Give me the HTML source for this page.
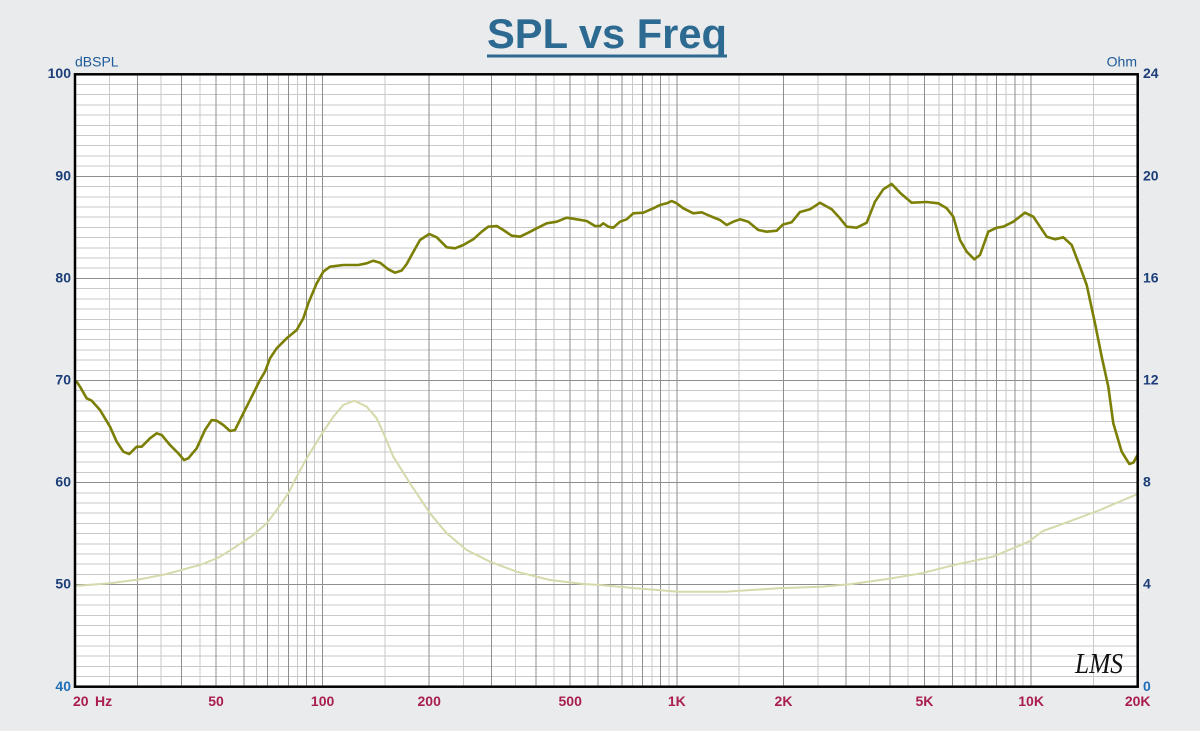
<!DOCTYPE html>
<html><head><meta charset="utf-8"><style>
html,body{margin:0;padding:0;background:#eaebed;}
svg{display:block;}
</style></head><body>
<svg width="1200" height="731" viewBox="0 0 1200 731" xmlns="http://www.w3.org/2000/svg" font-family="'Liberation Sans', Arial, sans-serif">
<rect x="0" y="0" width="1200" height="731" fill="#eaebed"/>
<!-- title -->
<text x="607" y="48" text-anchor="middle" font-size="42" font-weight="bold" fill="#2d6a92" textLength="240" lengthAdjust="spacingAndGlyphs">SPL vs Freq</text>
<rect x="487" y="54.5" width="240" height="3" fill="#2d6a92"/>
<!-- plot area -->
<rect x="75" y="74.3" width="1062.7" height="612.4" fill="#ffffff"/>
<g shape-rendering="crispEdges" fill="none" stroke-width="1">
<path stroke="#c9c9c9" d="M75 84.5H1138M75 94.7H1138M75 104.9H1138M75 115.1H1138M75 125.3H1138M75 135.5H1138M75 145.7H1138M75 156H1138M75 166.2H1138
M75 186.6H1138M75 196.8H1138M75 207H1138M75 217.2H1138M75 227.4H1138M75 237.6H1138M75 247.8H1138M75 258H1138M75 268.2H1138
M75 288.6H1138M75 298.9H1138M75 309.1H1138M75 319.3H1138M75 329.5H1138M75 339.7H1138M75 349.9H1138M75 360.1H1138M75 370.3H1138
M75 390.7H1138M75 400.9H1138M75 411.1H1138M75 421.3H1138M75 431.5H1138M75 441.8H1138M75 452H1138M75 462.2H1138M75 472.4H1138
M75 492.8H1138M75 503H1138M75 513.2H1138M75 523.4H1138M75 533.6H1138M75 543.8H1138M75 554H1138M75 564.2H1138M75 574.4H1138
M75 594.9H1138M75 605.1H1138M75 615.3H1138M75 625.5H1138M75 635.7H1138M75 645.9H1138M75 656.1H1138M75 666.3H1138M75 676.5H1138
M109.3 74V687M161.1 74V687M199.8 74V687M230.6 74V687M256.3 74V687M278.3 74V687M297.6 74V687M314.7 74V687
M385 74V687M463.6 74V687M515.3 74V687M554 74V687M584.9 74V687M610.6 74V687M632.6 74V687M651.8 74V687M668.9 74V687
M739.2 74V687M817.8 74V687M869.6 74V687M908.2 74V687M939.1 74V687M964.8 74V687M986.8 74V687M1006.1 74V687M1023.2 74V687M1093.4 74V687"/>
<path stroke="#8e8e8e" d="M75 176.4H1138M75 278.4H1138M75 380.5H1138M75 482.6H1138M75 584.7H1138
M137.4 74V687M181.6 74V687M216 74V687M244 74V687M267.7 74V687M288.3 74V687M306.4 74V687M322.6 74V687
M429.2 74V687M491.6 74V687M535.9 74V687M570.2 74V687M598.2 74V687M622 74V687M642.5 74V687M660.6 74V687M676.8 74V687
M783.5 74V687M845.8 74V687M890.1 74V687M924.4 74V687M952.5 74V687M976.2 74V687M996.7 74V687M1014.9 74V687M1031.1 74V687"/>
</g>
<!-- impedance curve -->
<polyline fill="none" stroke="#d6d9ab" stroke-width="2" stroke-linejoin="round" stroke-linecap="round" points="75,586 110,583.3 140,579.3 166.7,574 193.3,566.7 200,565 216.7,558.3 220,556.7 233.3,548.3 253.3,535 266.7,523.3 276.7,510 288.3,493.3 296.7,476.7 306.7,458.3 320,436.7 333.3,416.7 343.3,405 354.3,400.7 366.7,406.7 376.7,418.3 385,436.7 393.3,456.7 410,483.3 430,513.3 446.7,533.3 466.7,550 490,561.7 516.7,571.7 550,580 583.3,584 600,585 635.7,588.3 678.6,591.7 725,591.7 778.6,588.3 821.4,586.7 850,584.3 885.7,579.3 921.4,573.3 957,564.3 992.9,556.7 1028.6,541.7 1042.9,531 1064.3,523.3 1100,510 1137.5,494"/>
<!-- SPL curve -->
<polyline fill="none" stroke="#7b7f05" stroke-width="2.6" stroke-linejoin="round" stroke-linecap="round" points="75.5,382 76.7,381.7 80,386.7 86.7,398.3 91.7,400.7 100,410 110,426.7 116.7,441.7 123.3,451.7 129.3,454 136.7,446.7 141.7,446.7 150,438.3 156.7,433.3 161.7,435 170,445 178.3,453.3 184,460 188.3,458.3 196.7,448.3 205,430 211.7,420 216.7,420.7 223.3,425 230,431 235,430 243.3,413.3 251.7,396.7 260,380 265,371.7 270,358.3 276.7,348.3 286.7,338.3 296.7,330 303.3,318.3 308.3,303.3 316.7,283.3 323.3,271.7 330,266.7 343.3,265 358.3,265 366.7,263.3 373.3,260.7 380,262.7 388.3,269.3 395,272.7 401.7,270.5 406.7,264 413.3,252 420,240 429.3,234 436.7,237.3 446.7,247.3 455,248.3 463.3,245 473.3,239.3 481.7,231.7 488.3,226.7 496.7,226 503.3,230 511.7,235.7 520,236.7 528.3,232.7 536.7,228.3 546.7,223.3 556.7,221.7 566.7,217.7 576.7,219.3 586.7,221 595,226 600,226 603.3,223.3 608.3,226.7 613.3,227.7 620,221.7 626.7,219.3 633.3,213.3 643.3,212.7 653.3,208.3 660,205 666.7,203.3 671.7,201 676.7,203.3 683.3,208.3 693.3,213.3 701.7,212.3 710,216 720,220 726.7,225 733.3,221.7 740,219.3 748.3,221.7 758.3,230 766.7,231.7 776.7,230.7 783,224.5 791.7,222.2 800,212 810,209.3 820,202.7 831.7,209.3 840,218.3 846.7,226.7 856.7,227.7 866.7,222.7 875,201.7 883.3,189.3 891.7,184 900,192.7 911.7,202.7 926.7,202 938.3,203.3 946.7,208.3 953.3,216.7 960,240 966.7,251.7 974.3,259.3 980,255 988.3,231.7 996.7,227.7 1003.3,226.7 1013.3,221.7 1025,212.7 1033.3,216.7 1046.7,236.7 1055,239.3 1063.3,237.3 1071.7,245 1080,266.7 1086.7,285 1095,323.3 1101.7,356.7 1108.3,386.7 1113.3,423.3 1121.7,451.7 1129.3,464 1133.3,462.7 1137.5,455"/>
<!-- border -->
<rect x="75" y="74.3" width="1062.7" height="612.4" fill="none" stroke="#000" stroke-width="2.5"/>
<!-- LMS logo -->
<text x="1075" y="673" font-family="'Liberation Serif', serif" font-style="italic" font-size="28" fill="#111" textLength="48" lengthAdjust="spacingAndGlyphs">LMS</text>
<!-- axis titles -->
<text x="75" y="66.5" font-size="14" fill="#1d5a99">dBSPL</text>
<text x="1137" y="66.5" font-size="14" fill="#1d5a99" text-anchor="end">Ohm</text>
<!-- left labels -->
<g font-size="14" font-weight="bold" fill="#1b3e78" text-anchor="end">
<text x="71" y="78">100</text>
<text x="71" y="180.5">90</text>
<text x="71" y="282.5">80</text>
<text x="71" y="384.5">70</text>
<text x="71" y="486.5">60</text>
<text x="71" y="588.7">50</text>
<text x="71" y="691" fill="#1f6fb8">40</text>
</g>
<!-- right labels -->
<g font-size="14" font-weight="bold" fill="#1b3e78">
<text x="1143" y="78">24</text>
<text x="1143" y="180.5">20</text>
<text x="1143" y="282.5">16</text>
<text x="1143" y="384.5">12</text>
<text x="1143" y="486.5">8</text>
<text x="1143" y="588.7">4</text>
<text x="1143" y="691" fill="#1f6fb8">0</text>
</g>
<!-- x labels -->
<g font-size="14" font-weight="bold" fill="#a91d4f" text-anchor="middle">
<text x="73" y="706" text-anchor="start">20</text>
<text x="95" y="706" text-anchor="start">Hz</text>
<text x="216" y="706">50</text>
<text x="322.6" y="706">100</text>
<text x="429.2" y="706">200</text>
<text x="570.2" y="706">500</text>
<text x="676.8" y="706">1K</text>
<text x="783.5" y="706">2K</text>
<text x="924.4" y="706">5K</text>
<text x="1031.1" y="706">10K</text>
<text x="1137.7" y="706">20K</text>
</g>
</svg>
</body></html>
